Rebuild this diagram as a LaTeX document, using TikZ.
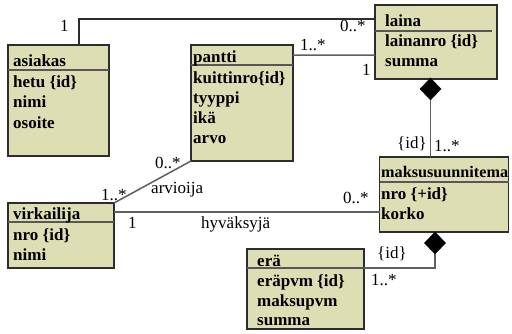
\documentclass[tikz,border=0pt]{standalone}
\usepackage{fontspec}
\setmainfont{Liberation Serif}
\usetikzlibrary{calc,shapes.geometric}
\definecolor{classfill}{RGB}{221,222,180}
\definecolor{edgedark}{RGB}{45,45,45}
\definecolor{edgegray}{RGB}{95,95,95}
\tikzset{
  classbox/.style={draw=edgedark,line width=1.3bp,fill=classfill,inner sep=0pt,outer sep=0pt},
  sepline/.style={draw=edgedark!80,line width=1.3bp},
  attr/.style={anchor=base west,inner sep=0pt,font=\fontsize{17bp}{20bp}\selectfont\bfseries},
  lbl/.style={anchor=base west,inner sep=0pt,font=\fontsize{17bp}{20bp}\selectfont},
  assoc/.style={draw=edgegray,line width=1.5bp},
  assocdark/.style={draw=edgedark,line width=1.3bp},
  compdia/.style={diamond,fill=black,draw=black,inner sep=0pt,outer sep=0pt,minimum width=21bp,minimum height=22bp}
}
\begin{document}
\begin{tikzpicture}[x=1bp,y=-1bp]
\useasboundingbox (0,0) rectangle (512,333);

% class boxes (centre, width, height)
\node[classbox,minimum width=101bp,minimum height=111bp] (asiakas) at (58.5,100.5) {};
\node[classbox,minimum width=102bp,minimum height=116bp] (pantti) at (242,103) {};
\node[classbox,minimum width=122bp,minimum height=74bp] (laina) at (436,42) {};
\node[classbox,minimum width=129bp,minimum height=75bp] (maksu) at (444,194.5) {};
\node[classbox,minimum width=106bp,minimum height=65bp] (virkailija) at (61,235.5) {};
\node[classbox,minimum width=117bp,minimum height=80bp] (era) at (305.5,289) {};

% title separators
\draw[sepline] ($(asiakas.north west)+(0,25)$) -- ($(asiakas.north east)+(0,25)$);
\draw[sepline] ($(pantti.north west)+(0,20)$) -- ($(pantti.north east)+(0,20)$);
\draw[sepline] ($(laina.north west)+(0,26)$) -- ($(laina.north east)+(-5,26)$);
\draw[sepline] ($(maksu.north west)+(0,25)$) -- ($(maksu.north east)+(0,25)$);
\draw[sepline] ($(virkailija.north west)+(0,19)$) -- ($(virkailija.north east)+(0,19)$);
\draw[sepline] ($(era.north west)+(0,19)$) -- ($(era.north east)+(0,19)$);

% class texts
\node[attr] (asiakas-n) at (13,66) {asiakas};
\node[attr] (asiakas-a1) at (13,87) {hetu \{id\}};
\node[attr] (asiakas-a2) at (13,107) {nimi};
\node[attr] (asiakas-a3) at (13,128) {osoite};

\node[attr] (pantti-n) at (193,62) {pantti};
\node[attr] (pantti-a1) at (193,83) {kuittinro\{id\}};
\node[attr] (pantti-a2) at (193,103) {tyyppi};
\node[attr] (pantti-a3) at (193,123) {ikä};
\node[attr] (pantti-a4) at (193,143) {arvo};

\node[attr] (laina-n) at (385,26) {laina};
\node[attr] (laina-a1) at (385,46) {lainanro \{id\}};
\node[attr] (laina-a2) at (385,66) {summa};

\node[attr,font=\fontsize{16.2bp}{20bp}\selectfont\bfseries] (maksu-n) at (381,177) {maksusuunnitema};
\node[attr] (maksu-a1) at (381,199) {nro \{+id\}};
\node[attr] (maksu-a2) at (381,219) {korko};

\node[attr] (virkailija-n) at (13,219) {virkailija};
\node[attr] (virkailija-a1) at (13,240) {nro \{id\}};
\node[attr] (virkailija-a2) at (13,260) {nimi};

\node[attr] (era-n) at (257,266) {erä};
\node[attr] (era-a1) at (257,286) {eräpvm \{id\}};
\node[attr] (era-a2) at (257,306) {maksupvm};
\node[attr] (era-a3) at (257,325) {summa};

% associations
\draw[assocdark] ($(asiakas.north west)+(71,0)$) |- ($(laina.north west)+(0,14)$);
\draw[assoc] ($(pantti.north east)+(0,10)$) -- ($(laina.north west)+(0,50)$);
\draw[assoc] (virkailija.north east) -- (pantti.south west);
\coordinate (hyv) at ($(virkailija.north east)+(0,9)$);
\draw[assoc] (hyv) -- (hyv -| maksu.west);

% compositions
\node[compdia,anchor=north] (dia1) at ($(laina.south west)+(55.5,-1)$) {};
\draw[assoc] (dia1.south) -- (dia1.south |- maksu.north);
\node[compdia,anchor=north] (dia2) at ($(maksu.south west)+(55.5,0)$) {};
\draw[assoc] (dia2.south) |- ($(era.north east)+(0,19)$);

% multiplicities and role names
\node[lbl] (m-asiakas) at (60,31) {1};
\node[lbl] (m-laina1) at (340,31) {0..*};
\node[lbl] (m-pantti) at (300,50) {1..*};
\node[lbl] (m-laina2) at (362,75) {1};
\node[lbl] (id-maksu) at (397,148) {\{id\}};
\node[lbl] (m-maksu1) at (434,151) {1..*};
\node[lbl] (m-pantti2) at (155,168) {0..*};
\node[lbl] (m-virk1) at (101,200) {1..*};
\node[lbl] (r-arvioija) at (151,193) {arvioija};
\node[lbl] (m-virk2) at (128,228) {1};
\node[lbl] (r-hyv) at (201,228) {hyväksyjä};
\node[lbl] (m-maksu2) at (343,203) {0..*};
\node[lbl] (id-era) at (377,258) {\{id\}};
\node[lbl] (m-era) at (371,285) {1..*};
\end{tikzpicture}
\end{document}
